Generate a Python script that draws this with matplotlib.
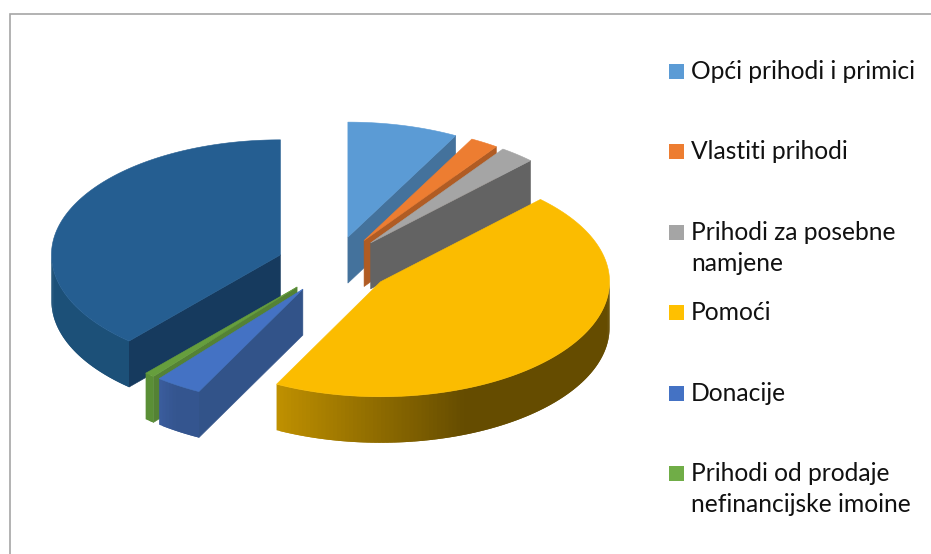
#!/usr/bin/env python3
"""Exploded 3D-style pie of income sources, with the legend on the right."""

import matplotlib
matplotlib.use('Agg')
import matplotlib.pyplot as plt
from matplotlib.colors import to_rgb
from matplotlib.patches import Polygon, Rectangle
import numpy as np

# ── Data ─────────────────────────────────────────────────────────────────────
legend_labels = [
    'Opći prihodi i primici',
    'Vlastiti prihodi',
    'Prihodi za posebne\nnamjene',
    'Pomoći',
    'Donacije',
    'Prihodi od prodaje\nnefinancijske imoine',
]
# last slice has no legend entry, the legend is cut off by the frame
shares = [7.8, 2.0, 2.5, 45.2, 3.3, 0.7, 38.5]

top_colors = ['#5B9BD5', '#ED7D31', '#A5A5A5', '#FBBC00', '#4472C4', '#669E3D', '#255E91']
cut_colors = ['#44729C', '#B05C24', '#636363', '#FBBC00', '#325389', '#548235', '#163A5E']
rim_start = ['#44729C', '#B05C24', '#636363', '#BF9000', '#3A5C9C', '#5A8F36', '#1C5078']
rim_end = ['#44729C', '#B05C24', '#636363', '#654C00', '#34558F', '#5A8F36', '#1C5078']
legend_colors = ['#5B9BD5', '#ED7D31', '#A5A5A5', '#FFC000', '#4472C4', '#70AD47']

# pie geometry, in pixels
cx, cy = 334, 265
rx, ry = 229, 115
depth = 46
explode = 0.25

plt.rcParams['font.family'] = ['Lato', 'DejaVu Sans']

fig = plt.figure(figsize=(9.31, 5.54), dpi=100)
ax = fig.add_axes([0, 0, 1, 1])
ax.set_xlim(0, 931)
ax.set_ylim(554, 0)
ax.axis('off')


def edge_point(apex, t):
    # t is degrees clockwise from 12 o'clock
    r = np.radians(t)
    return apex[0] + rx * np.sin(r), apex[1] - ry * np.cos(r)


def add_poly(pts, color, z, lw=0.4):
    ax.add_patch(Polygon(pts, closed=True, facecolor=color, edgecolor=color if lw else 'none',
                         linewidth=lw, zorder=z))


def draw_rim(apex, t0, t1, c0, c1, z, fade_end=0.41):
    # outer wall is only visible on the lower half of the ellipse
    lo, hi = max(t0, 90), min(t1, 270)
    if hi <= lo:
        return
    n = max(int(hi - lo), 2)
    edges = np.linspace(hi, lo, n + 1)
    c0, c1 = np.array(to_rgb(c0)), np.array(to_rgb(c1))
    for k in range(n):
        frac = min(k / n / fade_end, 1)
        # each strip runs under the next one, so no seams show
        ts = edges[k:k + 3]
        upper = [edge_point(apex, t) for t in ts]
        lower = [(x, y + depth) for x, y in upper[::-1]]
        add_poly(upper + lower, tuple(c0 + (c1 - c0) * frac), z, lw=0)


angles = np.concatenate([[0], np.cumsum(shares) / np.sum(shares) * 360])

# back slices first, the big yellow one goes last
draw_order = [0, 1, 2, 6, 5, 4, 3]
for z, i in enumerate(draw_order):
    t0, t1 = angles[i], angles[i + 1]
    mid = np.radians((t0 + t1) / 2)
    apex = (cx + explode * rx * np.sin(mid), cy - explode * ry * np.cos(mid))

    # cut faces that look towards the viewer
    for t, visible in ((t1, np.sin(np.radians(t1)) > 0), (t0, np.sin(np.radians(t0)) < 0)):
        if visible:
            x, y = edge_point(apex, t)
            add_poly([apex, (x, y), (x, y + depth), (apex[0], apex[1] + depth)],
                     cut_colors[i], z * 3 + 1)

    draw_rim(apex, t0, t1, rim_start[i], rim_end[i], z * 3 + 1)

    ts = np.linspace(t0, t1, max(int(t1 - t0) * 2, 4))
    arc = [edge_point(apex, t) for t in ts]
    add_poly([apex] + arc, top_colors[i], z * 3 + 2)

# chart frame, open at the bottom
ax.plot([10, 10, 931], [554, 14, 14], color='#A6A6A6', linewidth=1.2, zorder=50,
        solid_joinstyle='miter')

# legend
legend_y = [71, 151, 232, 312, 393, 473]
for label, color, y in zip(legend_labels, legend_colors, legend_y):
    ax.add_patch(Rectangle((669, y - 7.5), 15, 15, facecolor=color, edgecolor='none', zorder=60))
    ax.text(691, y - 11, label, fontsize=17.7, color='#111111', va='top', ha='left',
            linespacing=1.43, zorder=60)

fig.savefig('out.png', dpi=100)
